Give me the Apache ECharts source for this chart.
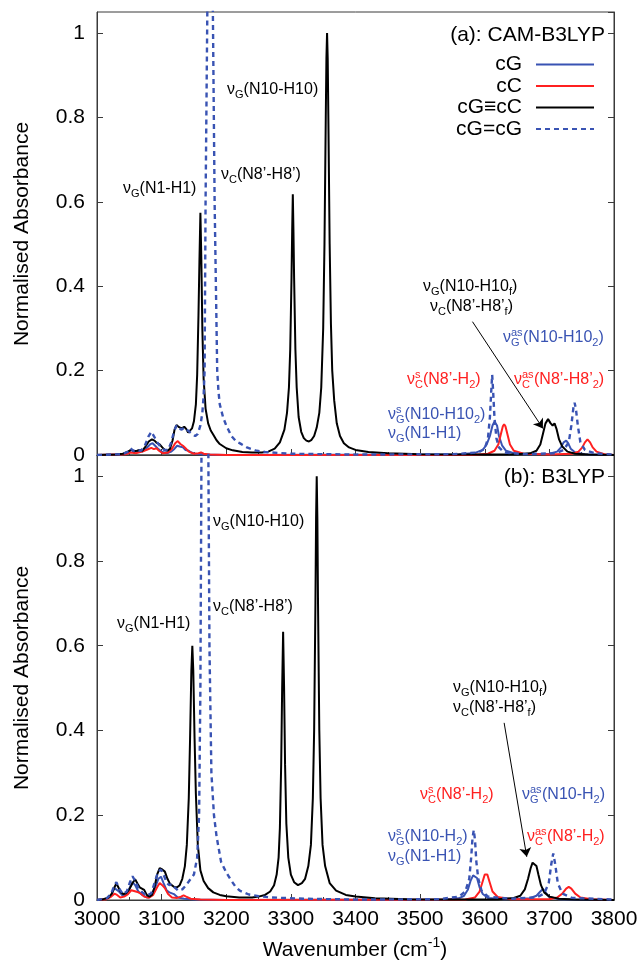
<!DOCTYPE html>
<html><head><meta charset="utf-8">
<script src="https://cdn.jsdelivr.net/npm/echarts/dist/echarts.min.js"></script>
<style>html,body{margin:0;padding:0;background:#fff}#c{width:643px;height:965px}</style>
</head><body><div id="c"></div><script>
// ---------- data (wavenumber cm-1, normalised absorbance) ----------
const seriesNames = ['cG', 'cC', 'cG\u2261cC', 'cG=cG'];
const xTicks = [3000, 3100, 3200, 3300, 3400, 3500, 3600, 3700, 3800];
const yTicks = [0, 0.2, 0.4, 0.6, 0.8, 1];

// Panel (a): CAM-B3LYP
const blueA = [[3000,0],[3040,0.002],[3050,0.008],[3054,0.012],[3058,0.007],[3064,0.01],[3070,0.008],[3076,0.015],[3082,0.025],[3086,0.028],[3090,0.022],[3095,0.014],[3100,0.008],[3108,0.004],[3115,0.008],[3120,0.015],[3124,0.022],[3128,0.02],[3133,0.018],[3137,0.012],[3142,0.01],[3146,0.006],[3152,0.003],[3165,0.001],[3200,0],[3500,0.001],[3560,0.002],[3585,0.005],[3597,0.012],[3603,0.025],[3608,0.045],[3612,0.07],[3615,0.079],[3617,0.081],[3619,0.07],[3622,0.045],[3627,0.022],[3633,0.01],[3645,0.004],[3670,0.002],[3700,0.003],[3712,0.008],[3718,0.018],[3722,0.03],[3726,0.034],[3729,0.028],[3733,0.015],[3740,0.006],[3755,0.002],[3800,0]];
const redA = [[3000,0],[3045,0.002],[3052,0.006],[3060,0.004],[3070,0.008],[3078,0.013],[3084,0.017],[3088,0.014],[3092,0.016],[3096,0.01],[3102,0.004],[3110,0.006],[3116,0.015],[3121,0.028],[3125,0.033],[3129,0.026],[3133,0.022],[3137,0.016],[3142,0.008],[3150,0.003],[3157,0.004],[3161,0.006],[3165,0.003],[3175,0.001],[3200,0],[3580,0],[3605,0.003],[3615,0.01],[3621,0.025],[3625,0.05],[3628,0.068],[3630,0.073],[3632,0.068],[3635,0.05],[3639,0.025],[3645,0.01],[3660,0.003],[3700,0.001],[3735,0.003],[3745,0.008],[3751,0.018],[3755,0.03],[3759,0.037],[3763,0.03],[3767,0.018],[3773,0.008],[3785,0.002],[3800,0]];
const blackA = [[3000,0],[3030,0.001],[3040,0.003],[3048,0.008],[3053,0.013],[3057,0.009],[3062,0.01],[3066,0.012],[3070,0.01],[3075,0.02],[3080,0.032],[3085,0.037],[3089,0.034],[3093,0.028],[3097,0.025],[3101,0.018],[3105,0.012],[3109,0.01],[3113,0.015],[3117,0.035],[3120,0.06],[3123,0.071],[3127,0.066],[3131,0.063],[3135,0.067],[3138,0.062],[3141,0.053],[3144,0.056],[3147,0.063],[3150,0.08],[3153,0.12],[3155,0.19],[3157,0.33],[3158.5,0.46],[3160,0.574],[3161.5,0.46],[3163,0.3],[3165,0.18],[3168,0.11],[3172,0.075],[3176,0.058],[3180,0.048],[3185,0.035],[3190,0.026],[3200,0.016],[3210,0.011],[3225,0.007],[3240,0.006],[3255,0.006],[3265,0.008],[3275,0.015],[3283,0.03],[3290,0.06],[3294,0.1],[3297,0.16],[3299,0.25],[3301,0.42],[3302,0.53],[3303,0.618],[3304,0.53],[3305,0.42],[3307,0.25],[3309,0.16],[3312,0.09],[3316,0.055],[3320,0.04],[3324,0.034],[3328,0.032],[3332,0.036],[3336,0.045],[3340,0.065],[3344,0.1],[3347,0.16],[3350,0.3],[3352,0.5],[3354,0.8],[3355,0.94],[3356,1.0],[3357,0.94],[3358,0.8],[3360,0.5],[3362,0.31],[3364,0.2],[3367,0.13],[3371,0.075],[3376,0.045],[3382,0.028],[3390,0.018],[3400,0.012],[3420,0.007],[3450,0.004],[3500,0.002],[3550,0.001],[3600,0.001],[3650,0.002],[3670,0.004],[3680,0.01],[3686,0.025],[3690,0.05],[3694,0.075],[3698,0.085],[3702,0.075],[3705,0.07],[3708,0.075],[3711,0.062],[3715,0.037],[3720,0.02],[3728,0.008],[3740,0.003],[3760,0.001],[3800,0]];
const dashA = [[3000,0],[3040,0.002],[3048,0.008],[3052,0.016],[3056,0.01],[3062,0.012],[3068,0.01],[3074,0.022],[3080,0.045],[3084,0.055],[3088,0.045],[3093,0.03],[3098,0.02],[3104,0.012],[3110,0.012],[3115,0.03],[3119,0.055],[3123,0.07],[3127,0.063],[3131,0.06],[3135,0.065],[3139,0.06],[3143,0.055],[3147,0.05],[3152,0.045],[3156,0.05],[3160,0.07],[3163,0.1],[3165,0.14],[3166.5,0.2],[3168,0.6],[3170.7,1.05],[3172,1.4],[3175,2.0],[3178,1.4],[3179.3,1.05],[3182,0.6],[3186,0.2],[3188,0.15],[3190,0.12],[3195,0.09],[3200,0.07],[3208,0.045],[3215,0.033],[3222,0.027],[3232,0.018],[3245,0.011],[3260,0.007],[3300,0.003],[3400,0.001],[3550,0.002],[3590,0.006],[3600,0.015],[3605,0.04],[3608,0.09],[3610,0.15],[3611.5,0.19],[3613,0.15],[3615,0.09],[3618,0.04],[3622,0.018],[3630,0.006],[3660,0.002],[3710,0.004],[3722,0.012],[3730,0.03],[3734,0.07],[3737,0.11],[3739,0.124],[3741,0.11],[3744,0.07],[3748,0.03],[3755,0.012],[3770,0.004],[3800,0.001]];

// Panel (b): B3LYP
const blueB = [[3000,0],[3015,0.003],[3022,0.012],[3027,0.028],[3030,0.032],[3034,0.02],[3040,0.01],[3046,0.014],[3051,0.03],[3055,0.042],[3059,0.035],[3064,0.02],[3070,0.012],[3077,0.006],[3084,0.01],[3090,0.03],[3095,0.05],[3099,0.055],[3103,0.04],[3108,0.022],[3112,0.018],[3115,0.02],[3119,0.014],[3125,0.006],[3135,0.003],[3150,0.001],[3200,0],[3540,0.001],[3560,0.004],[3568,0.01],[3574,0.025],[3578,0.045],[3582,0.058],[3585,0.062],[3588,0.052],[3592,0.03],[3597,0.014],[3605,0.005],[3630,0.002],[3670,0.004],[3680,0.01],[3686,0.02],[3690,0.026],[3694,0.018],[3700,0.007],[3715,0.002],[3800,0]];
const redB = [[3000,0],[3015,0.002],[3022,0.008],[3027,0.015],[3031,0.012],[3036,0.006],[3042,0.008],[3048,0.014],[3053,0.023],[3056,0.026],[3060,0.02],[3064,0.018],[3068,0.015],[3073,0.008],[3080,0.005],[3087,0.012],[3093,0.03],[3097,0.04],[3101,0.035],[3105,0.028],[3110,0.014],[3116,0.006],[3124,0.005],[3130,0.008],[3134,0.011],[3138,0.008],[3145,0.003],[3160,0.001],[3200,0],[3570,0.001],[3585,0.006],[3592,0.02],[3597,0.045],[3600,0.06],[3602,0.064],[3604,0.06],[3607,0.045],[3612,0.02],[3620,0.007],[3640,0.002],[3700,0.002],[3712,0.006],[3720,0.015],[3726,0.027],[3730,0.031],[3734,0.027],[3740,0.015],[3748,0.006],[3765,0.002],[3800,0]];
const blackB = [[3000,0],[3010,0.002],[3018,0.006],[3023,0.015],[3027,0.03],[3030,0.039],[3033,0.03],[3037,0.018],[3041,0.014],[3045,0.016],[3050,0.025],[3055,0.04],[3059,0.049],[3063,0.038],[3066,0.03],[3069,0.031],[3073,0.024],[3077,0.012],[3081,0.008],[3085,0.012],[3089,0.03],[3093,0.06],[3097,0.075],[3101,0.072],[3105,0.067],[3109,0.05],[3113,0.038],[3116,0.035],[3120,0.03],[3124,0.03],[3128,0.035],[3132,0.05],[3136,0.08],[3139,0.13],[3142,0.24],[3144,0.38],[3146,0.54],[3147.5,0.6],[3149,0.54],[3151,0.38],[3153,0.25],[3156,0.13],[3160,0.07],[3165,0.045],[3172,0.028],[3180,0.018],[3190,0.012],[3200,0.009],[3220,0.006],[3240,0.006],[3250,0.008],[3260,0.012],[3268,0.02],[3274,0.035],[3278,0.06],[3281,0.1],[3283,0.17],[3285,0.32],[3286.5,0.5],[3288,0.633],[3289.5,0.5],[3291,0.32],[3293,0.18],[3296,0.1],[3300,0.06],[3305,0.042],[3311,0.035],[3317,0.04],[3322,0.05],[3327,0.08],[3331,0.13],[3334,0.24],[3336,0.4],[3338,0.7],[3339,0.9],[3340,1.0],[3341,0.9],[3342,0.7],[3344,0.4],[3346,0.24],[3349,0.13],[3353,0.08],[3360,0.04],[3370,0.022],[3385,0.012],[3400,0.008],[3430,0.004],[3480,0.002],[3550,0.001],[3620,0.002],[3645,0.005],[3655,0.01],[3662,0.025],[3667,0.05],[3671,0.075],[3674,0.088],[3677,0.085],[3680,0.08],[3683,0.06],[3687,0.035],[3692,0.018],[3700,0.008],[3715,0.003],[3740,0.001],[3800,0]];
const dashB = [[3000,0],[3015,0.004],[3022,0.015],[3027,0.035],[3030,0.042],[3034,0.028],[3040,0.014],[3046,0.02],[3051,0.042],[3055,0.056],[3059,0.045],[3064,0.028],[3070,0.018],[3077,0.01],[3084,0.016],[3090,0.045],[3095,0.068],[3099,0.072],[3103,0.06],[3108,0.04],[3112,0.035],[3116,0.038],[3120,0.03],[3126,0.022],[3132,0.025],[3138,0.035],[3145,0.05],[3150,0.06],[3155,0.1],[3158,0.2],[3160,0.5],[3161.5,1.0],[3163,1.5],[3167,2.2],[3171,1.5],[3172.5,1.0],[3174,0.6],[3177,0.3],[3181,0.2],[3185,0.15],[3192,0.09],[3200,0.065],[3206,0.05],[3214,0.032],[3221,0.022],[3235,0.013],[3250,0.009],[3270,0.006],[3320,0.003],[3400,0.001],[3530,0.002],[3560,0.008],[3570,0.02],[3576,0.05],[3579,0.1],[3581,0.145],[3583,0.165],[3585,0.14],[3587,0.09],[3590,0.05],[3595,0.022],[3605,0.008],[3640,0.003],[3680,0.006],[3692,0.015],[3699,0.04],[3703,0.085],[3706,0.11],[3709,0.085],[3713,0.04],[3720,0.015],[3735,0.005],[3800,0.001]];

// arrows (data coords): [from, to]
const arrowA = [[3581, 0.316], [3690, 0.063]];
const arrowB = [[3630, 0.418], [3665, 0.102]];

// ---------- styling ----------
const FF = '"Liberation Sans", Arial, Helvetica, sans-serif';
const BLUE = '#3953b3', RED = '#ff2020', BLACK = '#000000';
const AX = '#3a3a3a';

const chart = echarts.init(document.getElementById('c'), null, {renderer: 'canvas'});

function xAx(gi, pos, labels, ticks) {
  return {
    type: 'value', gridIndex: gi, position: pos, min: 3000, max: 3800, interval: 100,
    axisLine: {show: true, lineStyle: {color: AX, width: 1}},
    axisTick: {show: ticks, inside: true, length: 6, lineStyle: {color: AX}},
    minorTick: {show: ticks, splitNumber: 2, length: 3, lineStyle: {color: AX}},
    splitLine: {show: false}, minorSplitLine: {show: false},
    axisLabel: {show: labels, margin: 9, fontSize: 21, fontFamily: FF, color: '#000',
      formatter: v => (xTicks.indexOf(v) >= 0 ? String(v) : '')}
  };
}
function yAx(gi, pos, labels) {
  return {
    type: 'value', gridIndex: gi, position: pos, min: 0, max: 1.05, interval: 0.2,
    axisLine: {show: true, lineStyle: {color: AX, width: 1}},
    axisTick: {show: true, inside: true, length: 6, lineStyle: {color: AX}},
    splitLine: {show: false},
    axisLabel: {show: labels, margin: 12, fontSize: 21, fontFamily: FF, color: '#000', showMaxLabel: false,
      formatter: v => { const m = yTicks.find(t => Math.abs(t - v) < 1e-6); return m === undefined ? '' : String(m); }}
  };
}
function ser(name, data, color, dashed, gi, arrow) {
  const s = {
    type: 'line', name, data, xAxisIndex: gi * 2, yAxisIndex: gi * 2,
    showSymbol: false, symbol: 'none', smooth: false, clip: true, silent: true,
    lineStyle: {color, width: dashed ? 2.4 : 2, type: dashed ? [5, 4] : 'solid'},
    itemStyle: {color}, emphasis: {disabled: true}, animation: false
  };
  if (arrow) {
    s.markLine = {
      silent: true, animation: false, symbol: ['none', 'arrow'], symbolSize: 9,
      lineStyle: {color: '#000', width: 1, type: 'solid'}, label: {show: false},
      emphasis: {disabled: true},
      data: [[{coord: arrow[0]}, {coord: arrow[1]}]]
    };
  }
  return s;
}

const RICH = {
  m: {fontSize: 16, fontFamily: FF, lineHeight: 21},
  sub: {fontSize: 11, fontFamily: FF, verticalAlign: 'bottom'},
  subw: {fontSize: 11, fontFamily: FF, verticalAlign: 'bottom', width: 12},
  supz: {fontSize: 11, fontFamily: FF, verticalAlign: 'top', width: 0.01}
};
function ann(x, y, text, color) {
  return {type: 'text', x, y, silent: true, z: 100,
    style: {text, fill: color, fontSize: 16, fontFamily: FF, lineHeight: 21,
      align: 'left', verticalAlign: 'middle', rich: RICH}};
}
const NU = '\u03bd', P = '\u2019';
const annotations = [
  // (a)
  ann(123, 189, `{m|${NU}}{sub|G}{m|(N1-H1)}`, BLACK),
  ann(221, 175, `{m|${NU}}{sub|C}{m|(N8${P}-H8${P})}`, BLACK),
  ann(227, 90, `{m|${NU}}{sub|G}{m|(N10-H10)}`, BLACK),
  ann(423, 287, `{m|${NU}}{sub|G}{m|(N10-H10}{sub|f}{m|)}`, BLACK),
  ann(430, 307, `{m|${NU}}{sub|C}{m|(N8${P}-H8${P}}{sub|f}{m|)}`, BLACK),
  ann(503, 338, `{m|${NU}}{supz|as}{subw|G}{m|(N10-H10}{sub|2}{m|)}`, BLUE),
  ann(407, 380, `{m|${NU}}{supz|s}{sub|C}{m|(N8${P}-H}{sub|2}{m|)}`, RED),
  ann(514, 380, `{m|${NU}}{supz|as}{subw|C}{m|(N8${P}-H8${P}}{sub|2}{m|)}`, RED),
  ann(388, 415, `{m|${NU}}{supz|s}{sub|G}{m|(N10-H10}{sub|2}{m|)}`, BLUE),
  ann(388, 434, `{m|${NU}}{sub|G}{m|(N1-H1)}`, BLUE),
  // (b)
  ann(117, 624, `{m|${NU}}{sub|G}{m|(N1-H1)}`, BLACK),
  ann(213, 522, `{m|${NU}}{sub|G}{m|(N10-H10)}`, BLACK),
  ann(213, 607, `{m|${NU}}{sub|C}{m|(N8${P}-H8${P})}`, BLACK),
  ann(453, 688, `{m|${NU}}{sub|G}{m|(N10-H10}{sub|f}{m|)}`, BLACK),
  ann(453, 708, `{m|${NU}}{sub|C}{m|(N8${P}-H8${P}}{sub|f}{m|)}`, BLACK),
  ann(420, 795, `{m|${NU}}{supz|s}{sub|C}{m|(N8${P}-H}{sub|2}{m|)}`, RED),
  ann(522, 795, `{m|${NU}}{supz|as}{subw|G}{m|(N10-H}{sub|2}{m|)}`, BLUE),
  ann(388, 837, `{m|${NU}}{supz|s}{sub|G}{m|(N10-H}{sub|2}{m|)}`, BLUE),
  ann(388, 857, `{m|${NU}}{sub|G}{m|(N1-H1)}`, BLUE),
  ann(527, 837, `{m|${NU}}{supz|as}{subw|C}{m|(N8${P}-H}{sub|2}{m|)}`, RED)
];

const texts = [
  {type: 'text', x: 605, y: 35, silent: true, style: {text: '(a): CAM-B3LYP', fill: '#000', fontSize: 21, fontFamily: FF, align: 'right', verticalAlign: 'middle'}},
  {type: 'text', x: 605, y: 477, silent: true, style: {text: '(b): B3LYP', fill: '#000', fontSize: 21, fontFamily: FF, align: 'right', verticalAlign: 'middle'}},
  {type: 'text', x: 22, y: 234, rotation: Math.PI / 2, silent: true, style: {text: 'Normalised Absorbance', fill: '#000', fontSize: 21, fontFamily: FF, align: 'center', verticalAlign: 'middle'}},
  {type: 'text', x: 22, y: 678, rotation: Math.PI / 2, silent: true, style: {text: 'Normalised Absorbance', fill: '#000', fontSize: 21, fontFamily: FF, align: 'center', verticalAlign: 'middle'}},
  {type: 'text', x: 355, y: 950, silent: true, style: {text: '{t|Wavenumber (cm}{s|-1}{t|)}', fill: '#000', fontSize: 21, fontFamily: FF, align: 'center', verticalAlign: 'middle', lineHeight: 28,
    rich: {t: {fontSize: 21, fontFamily: FF, lineHeight: 28}, s: {fontSize: 14, fontFamily: FF, verticalAlign: 'top'}}}}
];

const option = {
  animation: false,
  backgroundColor: '#fff',
  grid: [
    {left: 97, right: 29, top: 12, height: 443, show: true, borderColor: AX, borderWidth: 1, backgroundColor: 'transparent', containLabel: false, outerBoundsMode: 'none'},
    {left: 97, right: 29, top: 455, height: 445, show: true, borderColor: AX, borderWidth: 1, backgroundColor: 'transparent', containLabel: false, outerBoundsMode: 'none'}
  ],
  xAxis: [xAx(0, 'bottom', false, true), xAx(0, 'top', false, false), xAx(1, 'bottom', true, true), xAx(1, 'top', false, false)],
  yAxis: [yAx(0, 'left', true), yAx(0, 'right', false), yAx(1, 'left', true), yAx(1, 'right', false)],
  legend: {
    orient: 'vertical', right: 48, top: 54, align: 'right', padding: 0, itemGap: 0.5,
    itemWidth: 58, itemHeight: 14, selectedMode: false, data: seriesNames,
    itemStyle: {opacity: 0},
    textStyle: {fontSize: 21, fontFamily: FF, color: '#000', lineHeight: 21, padding: [0, 9, 0, 0]}
  },
  tooltip: {show: false},
  series: [
    ser(seriesNames[0], blueA, BLUE, false, 0),
    ser(seriesNames[1], redA, RED, false, 0),
    ser(seriesNames[2], blackA, BLACK, false, 0, arrowA),
    ser(seriesNames[3], dashA, BLUE, true, 0),
    ser(seriesNames[0], blueB, BLUE, false, 1),
    ser(seriesNames[1], redB, RED, false, 1),
    ser(seriesNames[2], blackB, BLACK, false, 1, arrowB),
    ser(seriesNames[3], dashB, BLUE, true, 1)
  ],
  graphic: texts.concat(annotations)
};
chart.setOption(option);
</script></body></html>
